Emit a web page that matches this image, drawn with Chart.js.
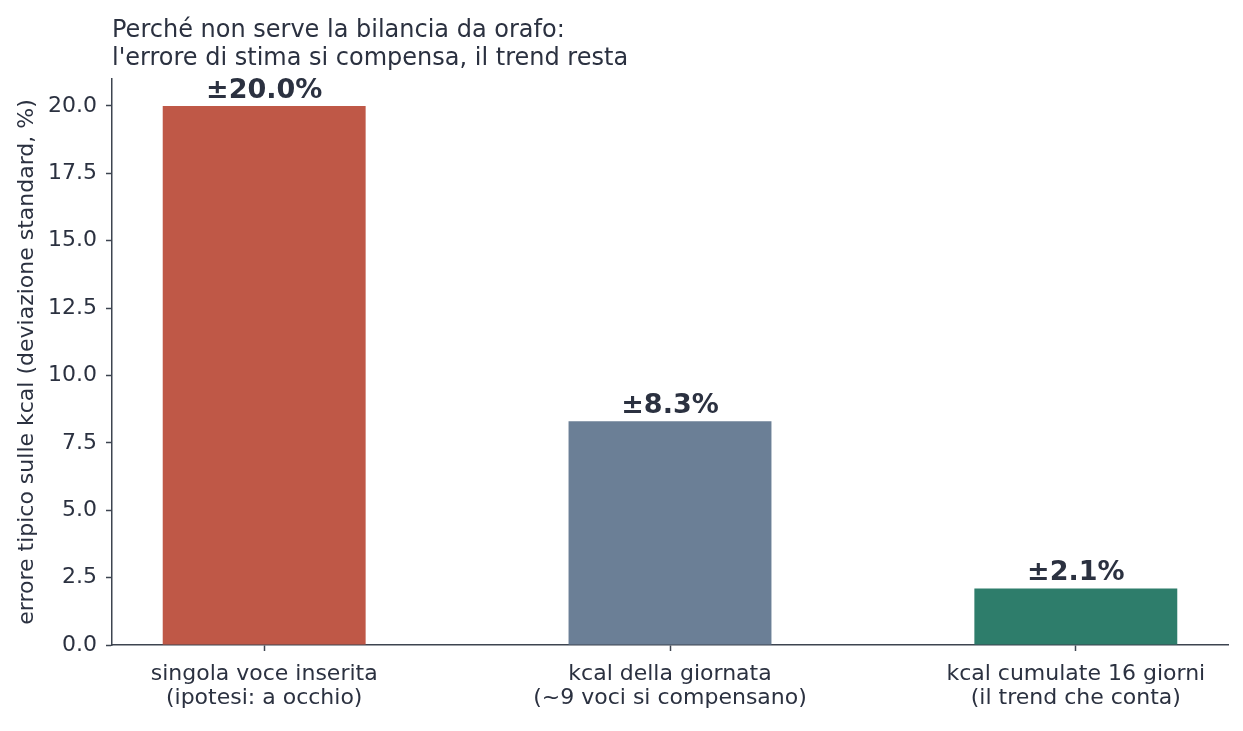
<!DOCTYPE html>
<html>
<head>
<meta charset="utf-8">
<script src="https://cdn.jsdelivr.net/npm/chart.js@4/dist/chart.umd.min.js"></script>
<style>
  html, body { margin: 0; padding: 0; background: #fff; }
  #wrap { width: 1243px; height: 731px; }
</style>
</head>
<body>
<div id="wrap"><canvas id="errChart"></canvas></div>
<script>
// categories and values
const categories = [
    ['singola voce inserita', '(ipotesi: a occhio)'],
    ['kcal della giornata', '(~9 voci si compensano)'],
    ['kcal cumulate 16 giorni', '(il trend che conta)']
];
const errorPct = [20.0, 8.3, 2.1];
const barColors = ['#bf5847', '#6b7f96', '#2e7d6b'];
const yTicks = [0, 2.5, 5, 7.5, 10, 12.5, 15, 17.5, 20];
const titleLines = ['Perché non serve la bilancia da orafo:', "l'errore di stima si compensa, il trend resta"];

const ink = '#2b3140';
const axisInk = '#3d4450';
const font = 'DejaVu Sans';

// title drawn at the left edge of the plot area
const titlePlugin = {
    id: 'leftTitle',
    afterDraw(chart) {
        const c = chart.ctx;
        c.save();
        c.fillStyle = ink;
        c.font = Chart.helpers.toFontString({ family: font, size: 24, style: 'normal', weight: 'normal' });
        c.textBaseline = 'alphabetic';
        c.textAlign = 'left';
        titleLines.forEach((t, i) => c.fillText(t, chart.chartArea.left, 37 + i * 28));
        c.restore();
    }
};

// value labels over each bar
const valueLabels = {
    id: 'valueLabels',
    afterDatasetsDraw(chart) {
        const c = chart.ctx;
        const meta = chart.getDatasetMeta(0);
        c.save();
        c.fillStyle = ink;
        c.font = Chart.helpers.toFontString({ family: font, size: 27, style: 'normal', weight: 'bold' });
        c.textAlign = 'center';
        c.textBaseline = 'alphabetic';
        meta.data.forEach((bar, i) => {
            c.fillText('±' + errorPct[i].toFixed(1) + '%', bar.x, bar.y - 8);
        });
        c.restore();
    }
};

const ctx = document.getElementById('errChart').getContext('2d');
const errChart = new Chart(ctx, {
    type: 'bar',
    data: {
        datasets: [{
            data: errorPct.map((v, i) => ({ x: i, y: v })),
            backgroundColor: barColors,
            borderWidth: 0,
            barPercentage: 0.5,
            categoryPercentage: 1.0
        }]
    },
    options: {
        responsive: true,
        maintainAspectRatio: false,
        animation: false,
        layout: { padding: { top: 79, right: 15, left: 0, bottom: 0 } },
        plugins: {
            legend: { display: false },
            tooltip: { enabled: false }
        },
        scales: {
            x: {
                type: 'linear',
                offset: false,
                min: -0.375,
                max: 2.375,
                afterBuildTicks(scale) {
                    scale.ticks = categories.map((c, i) => ({ value: i }));
                },
                afterFit(scale) { scale.height = 86; },
                ticks: {
                    callback: (v) => categories[v],
                    color: ink,
                    font: { family: font, size: 22, lineHeight: 1.1 },
                    padding: 11,
                    maxRotation: 0,
                    autoSkip: false
                },
                grid: {
                    offset: false,
                    drawOnChartArea: false,
                    drawTicks: true,
                    tickLength: 6,
                    tickWidth: 1.5,
                    tickColor: axisInk
                },
                border: { display: true, color: axisInk, width: 1.5 }
            },
            y: {
                type: 'linear',
                min: 0,
                max: 21,
                afterBuildTicks(scale) {
                    scale.ticks = yTicks.map(v => ({ value: v }));
                },
                afterFit(scale) { scale.width = 112; },
                ticks: {
                    callback: (v) => v.toFixed(1),
                    color: ink,
                    font: { family: font, size: 22 },
                    padding: 9
                },
                title: {
                    display: true,
                    text: 'errore tipico sulle kcal (deviazione standard, %)',
                    color: ink,
                    font: { family: font, size: 22 },
                    padding: { top: 14, bottom: 0 }
                },
                grid: {
                    drawOnChartArea: false,
                    drawTicks: true,
                    tickLength: 6,
                    tickWidth: 1.5,
                    tickColor: axisInk
                },
                border: { display: true, color: axisInk, width: 1.5 }
            }
        }
    },
    plugins: [titlePlugin, valueLabels]
});
</script>
</body>
</html>
